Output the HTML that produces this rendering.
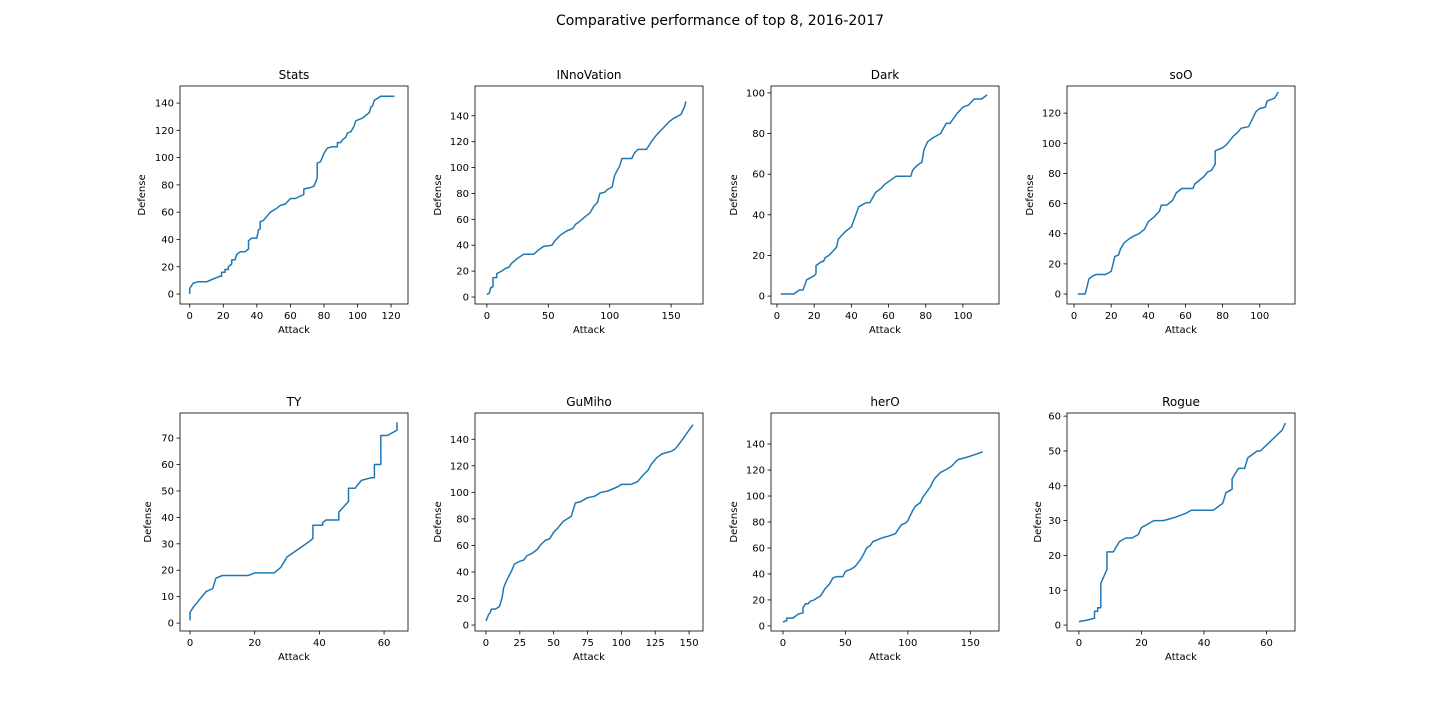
<!DOCTYPE html>
<html><head><meta charset="utf-8"><style>
html,body{margin:0;padding:0;background:#fff;}
svg{display:block;font-family:"DejaVu Sans","Liberation Sans",sans-serif;}
</style></head><body>
<svg id="fig" width="1440" height="720" viewBox="0 0 1440 720">
<text x="720" y="25" text-anchor="middle" font-size="14" fill="#000">Comparative performance of top 8, 2016-2017</text>
</svg>
<script>
const statsPoints=[[0,0],[0,4],[1,6],[2,8],[5,9],[10,9],[14,11],[18,13],[19,13],[19,16],[21,16],[21,18],[23,18],[23,20],[25,22],[25,25],[27,25],[28,29],[30,31],[33,31],[35,33],[35,39],[37,41],[40,41],[41,47],[42,48],[42,53],[44,54],[46,57],[48,60],[52,63],[54,65],[57,66],[60,70],[63,70],[68,73],[68,77],[72,78],[74,79],[76,85],[76,96],[78,97],[80,103],[82,107],[85,108],[88,108],[88,111],[90,111],[91,113],[93,115],[94,118],[96,119],[98,123],[99,127],[103,129],[106,132],[107,133],[108,137],[109,138],[110,142],[114,145],[122,145]];
const innovationPoints=[[0,2],[2,3],[3,7],[5,8],[5,15],[8,15],[8,18],[12,20],[15,22],[18,23],[20,26],[25,30],[30,33],[38,33],[43,37],[46,39],[53,40],[55,43],[58,46],[60,48],[65,51],[70,53],[72,56],[75,58],[80,62],[84,65],[87,70],[90,73],[92,80],[96,81],[98,83],[102,85],[104,94],[108,101],[110,107],[118,107],[120,111],[123,114],[130,114],[134,120],[138,125],[142,129],[148,135],[152,138],[158,141],[161,147],[162,151]];
const darkPoints=[[2,1],[6,1],[9,1],[12,3],[14,3],[16,8],[20,10],[21,11],[21,15],[24,17],[25,17],[26,19],[28,20],[30,22],[32,24],[33,28],[35,30],[37,32],[40,34],[42,39],[44,44],[48,46],[50,46],[53,51],[56,53],[58,55],[61,57],[64,59],[72,59],[73,62],[75,64],[78,66],[79,72],[81,76],[84,78],[86,79],[88,80],[91,85],[93,85],[97,90],[100,93],[103,94],[106,97],[110,97],[113,99]];
const sooPoints=[[2,0],[6,0],[7,5],[8,10],[10,12],[12,13],[17,13],[20,15],[22,25],[24,26],[25,30],[27,34],[30,37],[33,39],[35,40],[38,43],[40,48],[43,51],[46,55],[47,59],[50,59],[53,62],[55,67],[58,70],[64,70],[65,73],[67,75],[70,78],[72,81],[74,82],[76,86],[76,95],[80,97],[82,99],[84,102],[86,105],[88,107],[90,110],[94,111],[96,116],[98,121],[100,123],[103,124],[104,128],[108,130],[110,134]];
const tyPoints=[[0,1],[0,4],[1,6],[3,9],[5,12],[7,13],[8,17],[10,18],[18,18],[20,19],[26,19],[28,21],[29,23],[30,25],[37,31],[38,32],[38,37],[41,37],[41,38],[42,39],[46,39],[46,42],[49,46],[49,51],[51,51],[53,54],[56,55],[57,55],[57,60],[59,60],[59,71],[61,71],[64,73],[64,76]];
const gumihoPoints=[[0,3],[2,8],[3,9],[4,12],[7,12],[10,14],[12,21],[13,28],[15,33],[17,37],[19,41],[21,46],[25,48],[28,49],[30,52],[34,54],[38,57],[40,60],[44,64],[47,65],[50,70],[53,73],[57,78],[60,80],[63,82],[66,92],[70,93],[75,96],[80,97],[85,100],[90,101],[97,104],[100,106],[107,106],[112,108],[116,113],[120,117],[122,121],[126,126],[130,129],[137,131],[140,133],[143,137],[146,141],[148,144],[150,147],[153,151]];
const heroPoints=[[0,3],[3,4],[3,6],[8,6],[12,9],[16,10],[16,14],[18,17],[20,17],[22,19],[25,20],[28,22],[30,23],[34,29],[37,32],[40,37],[43,38],[48,38],[50,42],[55,44],[58,46],[62,51],[65,56],[67,60],[70,62],[72,65],[75,66],[80,68],[84,69],[90,71],[92,74],[95,78],[98,79],[100,81],[102,85],[104,89],[106,92],[110,95],[112,99],[115,103],[118,107],[120,111],[122,114],[126,118],[130,120],[135,123],[140,128],[148,130],[154,132],[160,134]];
const roguePoints=[[0,1],[3,1.5],[5,2],[5,4],[6,4],[6,5],[7,5],[7,12],[9,16],[9,21],[11,21],[13,24],[15,25],[17,25],[19,26],[20,28],[24,30],[27,30],[31,31],[34,32],[36,33],[43,33],[46,35],[47,38],[49,39],[49,42],[51,45],[53,45],[54,48],[57,50],[58,50],[65,56],[66,58]];
const playerNames=["Stats","INnoVation","Dark","soO","TY","GuMiho","herO","Rogue"];
const xTicks=[[0,20,40,60,80,100,120],[0,50,100,150],[0,20,40,60,80,100],[0,20,40,60,80,100],[0,20,40,60],[0,25,50,75,100,125,150],[0,50,100,150],[0,20,40,60]];
const yTicks=[[0,20,40,60,80,100,120,140],[0,20,40,60,80,100,120,140],[0,20,40,60,80,100],[0,20,40,60,80,100,120],[0,10,20,30,40,50,60,70],[0,20,40,60,80,100,120,140],[0,20,40,60,80,100,120,140],[0,10,20,30,40,50,60]];
const allPoints=[statsPoints,innovationPoints,darkPoints,sooPoints,tyPoints,gumihoPoints,heroPoints,roguePoints];
// axis domains [xmin,xmax,ymin,ymax]
const domains=[[-5.8,130.1,-7.3,152.5],[-9.7,176,-5.4,163],[-3.2,119.4,-3.9,103.4],[-3.8,119,-6.6,138],[-3.1,67.4,-3,79.5],[-8.1,160.3,-4.5,159.8],[-9.6,173,-3.9,163.9],[-3.8,69.1,-1.7,60.9]];
const colLeft=[180,475,771,1067], rowTop=[86,413], W=228, H=218;
const ylabX=[145,441,737,1033,151,441,737,1041];
const NS="http://www.w3.org/2000/svg";
const svg=document.getElementById('fig');
function mk(tag,attrs,parent){const e=document.createElementNS(NS,tag);for(const k in attrs)e.setAttribute(k,attrs[k]);(parent||svg).appendChild(e);return e;}
playerNames.forEach((name,i)=>{
  const L=colLeft[i%4],T=rowTop[Math.floor(i/4)];
  const [x0,x1,y0,y1]=domains[i];
  const sx=v=>L+(v-x0)/(x1-x0)*W, sy=v=>T+H-(v-y0)/(y1-y0)*H;
  const slug=name.toLowerCase();
  const g=mk('g',{});
  
  
  const t=mk('text',{x:L+W/2,y:T-7,'text-anchor':'middle','font-size':12},g);t.textContent=name;
  
  
  xTicks[i].forEach(v=>{const x=sx(v);
    mk('line',{x1:x,x2:x,y1:T+H,y2:T+H+3.5,stroke:'#000','stroke-width':0.8},g);
    const tt=mk('text',{x:x,y:T+H+15,'text-anchor':'middle','font-size':10},g);tt.textContent=v;
    
    });
  yTicks[i].forEach(v=>{const y=sy(v);
    mk('line',{x1:L-3.5,x2:L,y1:y,y2:y,stroke:'#000','stroke-width':0.8},g);
    const tt=mk('text',{x:L-6,y:y+3.5,'text-anchor':'end','font-size':10},g);tt.textContent=v;
    
    });
  const pts=allPoints[i].map(p=>sx(p[0]).toFixed(1)+','+sy(p[1]).toFixed(1)).join(' ');
  const line=mk('polyline',{points:pts,fill:'none',stroke:'#1f77b4','stroke-width':1.5,'stroke-linejoin':'round'},g);
  
  
  const fr=mk('rect',{x:L,y:T,width:W,height:H,fill:'none',stroke:'#000','stroke-width':0.8},g);
  
  
  const xl=mk('text',{x:L+W/2,y:T+H+29,'text-anchor':'middle','font-size':10},g);xl.textContent='Attack';
  
  
  const yl=mk('text',{x:ylabX[i],y:T+H/2,'text-anchor':'middle','font-size':10,transform:'rotate(-90 '+ylabX[i]+' '+(T+H/2)+')'},g);yl.textContent='Defense';
  
  
});
</script>
</body></html>
